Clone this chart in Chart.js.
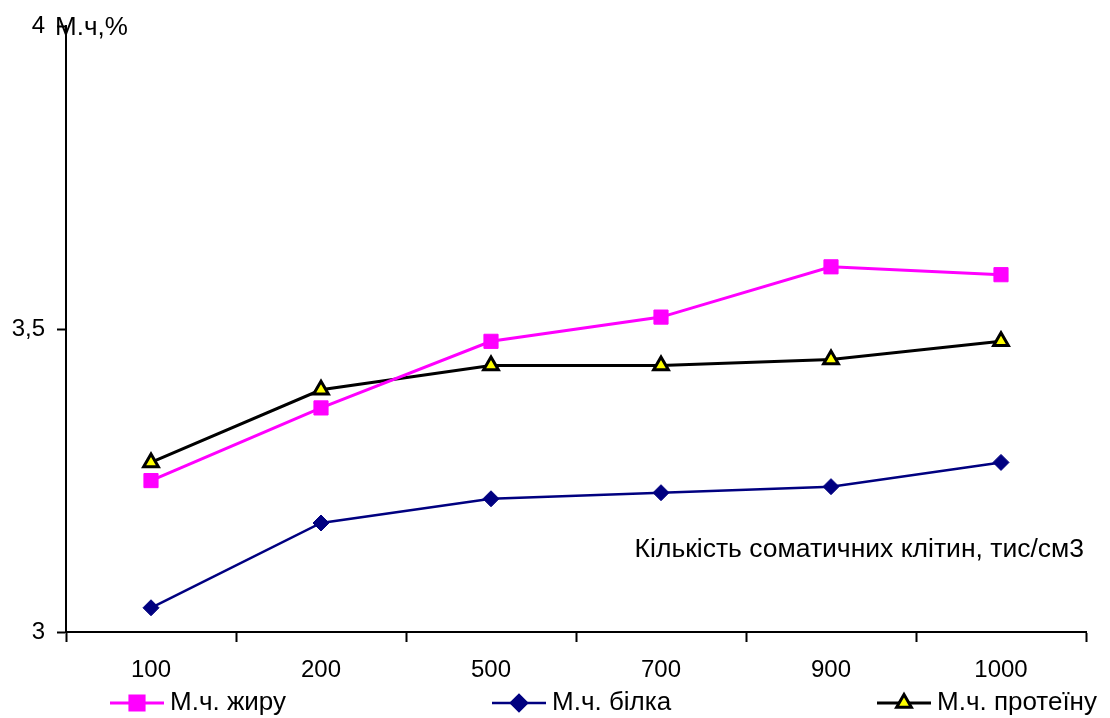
<!DOCTYPE html>
<html>
<head>
<meta charset="utf-8">
<script src="https://cdn.jsdelivr.net/npm/chart.js@4.4.1/dist/chart.umd.min.js"></script>
<style>
  html, body { margin: 0; padding: 0; background: #fff; }
  #wrap { width: 1110px; height: 718px; position: relative; }
</style>
</head>
<body>
<div id="wrap"><canvas id="chart"></canvas></div>
<script>
// somatic cell count groups, thousands per cm3
const cellCounts = ['100', '200', '500', '700', '900', '1000'];

// mass fraction, %
const fatShare = [3.25, 3.37, 3.48, 3.52, 3.603, 3.59];
const proteinShare = [3.04, 3.18, 3.22, 3.23, 3.24, 3.28];
const crudeProteinShare = [3.28, 3.40, 3.44, 3.44, 3.45, 3.48];

const seriesNames = ['М.ч. жиру', 'М.ч. білка', 'М.ч. протеїну'];
const yTicks = [3, 3.5, 4];

const FONT = 'Arial, "Liberation Sans", sans-serif';

// axis captions drawn inside the plot like the spreadsheet original
const captions = {
    id: 'captions',
    afterDraw(chart) {
        const ctx = chart.ctx;
        const area = chart.chartArea;
        ctx.save();
        ctx.fillStyle = '#000';
        ctx.font = '26px ' + FONT;
        ctx.textBaseline = 'middle';
        ctx.textAlign = 'left';
        ctx.fillText('М.ч,%', area.left - 11, area.top + 1);
        ctx.font = '26.5px ' + FONT;
        ctx.textAlign = 'right';
        ctx.fillText('Кількість соматичних клітин, тис/см3', area.right - 2, 550);
        ctx.restore();
    }
};

// legend row: short line with the marker on it, then the name
const legendStarts = [110, 492, 877];
const lineLegend = {
    id: 'lineLegend',
    afterDraw(chart) {
        const ctx = chart.ctx;
        const y = 703;
        ctx.save();
        ctx.font = '26px ' + FONT;
        ctx.textBaseline = 'middle';
        ctx.textAlign = 'left';
        chart.data.datasets.forEach((ds, i) => {
            const x = legendStarts[i];
            ctx.strokeStyle = ds.borderColor;
            ctx.lineWidth = ds.borderWidth;
            ctx.beginPath();
            ctx.moveTo(x, y);
            ctx.lineTo(x + 54, y);
            ctx.stroke();
            ctx.fillStyle = ds.pointBackgroundColor;
            ctx.strokeStyle = ds.pointBorderColor;
            Chart.helpers.drawPoint(ctx, {
                pointStyle: ds.pointStyle,
                radius: ds.pointRadius,
                borderWidth: ds.pointBorderWidth,
                rotation: 0
            }, x + 27, y);
            ctx.fillStyle = '#000';
            ctx.fillText(ds.label, x + 60, y);
        });
        ctx.restore();
    }
};

new Chart(document.getElementById('chart'), {
    type: 'line',
    data: {
        labels: cellCounts,
        datasets: [
            {
                label: seriesNames[0], data: fatShare,
                borderColor: '#ff00ff', borderWidth: 3,
                pointStyle: 'rect', pointRadius: 10,
                pointBackgroundColor: '#ff00ff', pointBorderColor: '#ff00ff', pointBorderWidth: 1
            },
            {
                label: seriesNames[1], data: proteinShare,
                borderColor: '#000080', borderWidth: 2.5,
                pointStyle: 'rectRot', pointRadius: 8,
                pointBackgroundColor: '#000080', pointBorderColor: '#000080', pointBorderWidth: 1
            },
            {
                label: seriesNames[2], data: crudeProteinShare,
                borderColor: '#000000', borderWidth: 3,
                pointStyle: 'triangle', pointRadius: 8.5,
                pointBackgroundColor: '#ffff00', pointBorderColor: '#000000', pointBorderWidth: 3
            }
        ]
    },
    options: {
        responsive: true,
        maintainAspectRatio: false,
        animation: false,
        layout: { padding: { top: 22, right: 24, left: 0, bottom: 0 } },
        plugins: { legend: { display: false }, tooltip: { enabled: false } },
        elements: { line: { tension: 0 } },
        scales: {
            x: {
                offset: true,
                grid: { offset: true, drawOnChartArea: false, tickLength: 10, tickColor: '#000', tickWidth: 2 },
                border: { color: '#000', width: 2 },
                ticks: { color: '#000', font: { family: FONT, size: 24 }, padding: 14, maxRotation: 0 },
                afterFit(s) { s.height = 86; }
            },
            y: {
                min: 3, max: 4,
                afterBuildTicks(s) { s.ticks = yTicks.map(v => ({ value: v })); },
                grid: { drawOnChartArea: false, tickLength: 9, tickColor: '#000', tickWidth: 2 },
                border: { color: '#000', width: 2 },
                ticks: {
                    color: '#000', font: { family: FONT, size: 24 }, padding: 12,
                    callback: v => String(v).replace('.', ',')
                },
                afterFit(s) { s.width = 66; }
            }
        }
    },
    plugins: [captions, lineLegend]
});
</script>
</body>
</html>
